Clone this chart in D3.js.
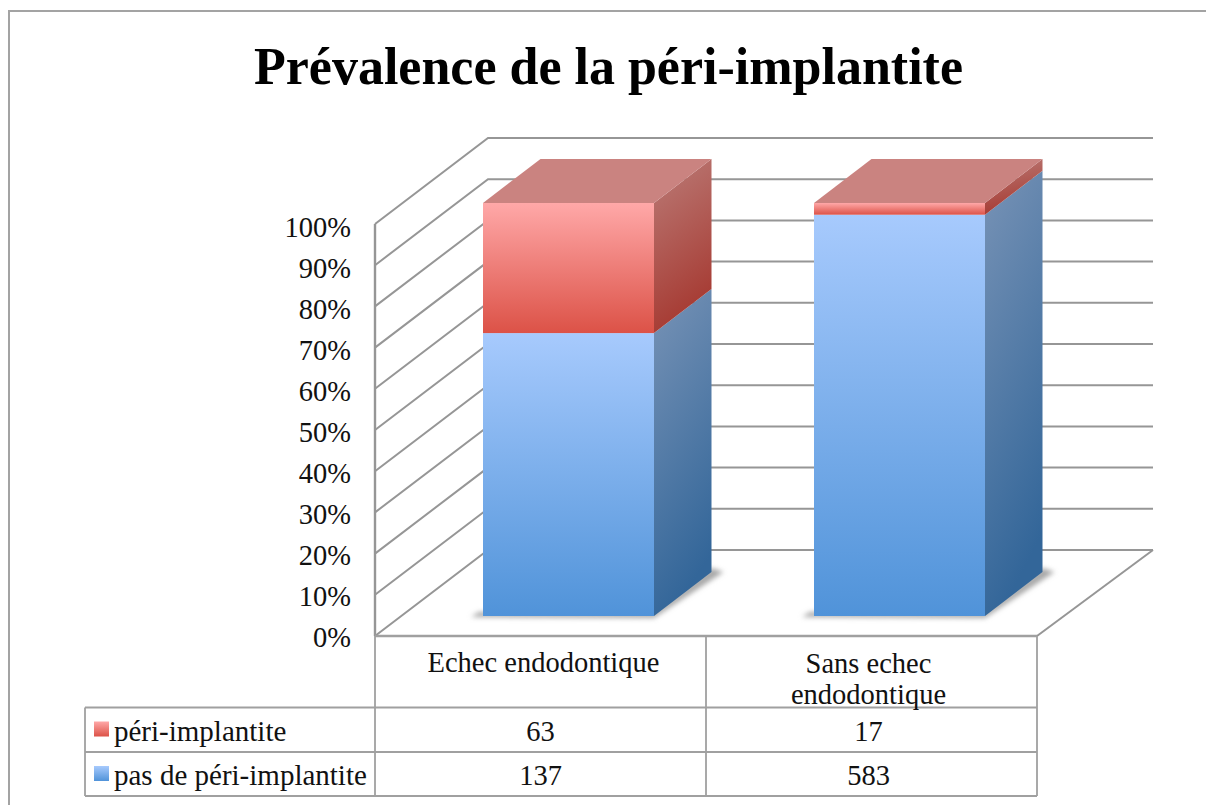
<!DOCTYPE html>
<html lang="fr">
<head>
  <meta charset="UTF-8">
  <title>Prévalence de la péri-implantite</title>
  <script src="https://d3js.org/d3.v7.min.js"></script>
  <style>
    html, body { margin: 0; padding: 0; background: #fff; overflow: hidden; }
    svg { display: block; font-family: "Liberation Serif", serif; }
  </style>
</head>
<body>
<svg id="chart" width="1206" height="805"></svg>

<script>
const title = "Prévalence de la péri-implantite";
const categories = ["Echec endodontique", "Sans echec endodontique"];
const categoryLines = [["Echec endodontique"], ["Sans echec", "endodontique"]];
const periValues = [63, 17];
const sansValues = [137, 583];
const seriesNames = ["péri-implantite", "pas de péri-implantite"];
const ticks = [0, 0.1, 0.2, 0.3, 0.4, 0.5, 0.6, 0.7, 0.8, 0.9, 1];

const svg = d3.select("#chart");
const left = 375, right = 1037, axisBottom = 636, axisTop = 224;
const wallDx = 113, wallDy = -86;   // depth of the back wall
const barDx = 57.5, barDy = -44;    // depth of one bar
const barW = 171;
const gridColor = "#969696";

const x = d3.scaleBand().domain(categories).range([left, right]);
const y = d3.scaleLinear().domain([0, 1]).range([axisBottom, axisTop]);
// tick labels drift a bit from the gridlines in the original
const yLabel = d3.scaleLinear().domain([0, 1]).range([647, 237]);
// bars sit 20px up the floor, 28px in
const yBar = d3.scaleLinear().domain([0, 1]).range([616, 203]);
const barX = c => x(c) + (x.bandwidth() - barW) / 2 + 28;

const defs = svg.append("defs");
function grad(id, x2, y2, c1, c2) {
  const g = defs.append("linearGradient").attr("id", id)
    .attr("x1", 0).attr("y1", 0).attr("x2", x2).attr("y2", y2);
  g.append("stop").attr("offset", 0).attr("stop-color", c1);
  g.append("stop").attr("offset", 1).attr("stop-color", c2);
}
grad("blueFront", 0, 1, "#a7cafd", "#5093d9");
grad("redFront", 0, 1, "#ffa8a8", "#dc5247");
grad("blueSide", 0.25, 1, "#7893b6", "#336699");
grad("redSide", 0.25, 1, "#bb7c78", "#a63a32");
defs.append("filter").attr("id", "blur").attr("x", "-20%").attr("y", "-20%")
  .attr("width", "140%").attr("height", "140%")
  .append("feGaussianBlur").attr("stdDeviation", 2.5);

// outer frame, open on the right and bottom
svg.append("path")
  .attr("d", d3.line()([[9, 805], [9, 11], [1206, 11]]))
  .attr("fill", "none").attr("stroke", "#a3a3a3").attr("stroke-width", 2);

svg.append("text").attr("x", 608.5).attr("y", 84)
  .attr("text-anchor", "middle").attr("font-size", 52).attr("font-weight", "bold")
  .attr("fill", "#000").text(title);

// gridlines: front edge, along the side wall, then along the back wall
const grid = svg.append("g").attr("fill", "none").attr("stroke", gridColor).attr("stroke-width", 2);
grid.selectAll("path").data(ticks).join("path")
  .attr("d", t => d3.line()([[left, y(t)], [left + wallDx, y(t) + wallDy], [right + wallDx + 3, y(t) + wallDy]]));
// floor front right corner
grid.append("path").attr("d", d3.line()([[right, axisBottom], [right + wallDx + 3, axisBottom + wallDy]]));
grid.append("path").attr("d", d3.line()([[left, axisTop], [left, axisBottom]])).attr("stroke-width", 2.4);

svg.append("g").selectAll("text").data(ticks).join("text")
  .attr("x", 351).attr("y", t => yLabel(t))
  .attr("text-anchor", "end").attr("font-size", 28.5).attr("fill", "#111")
  .text(d3.format(".0%"));

// stacked 3d bars
const stacks = categories.map((c, i) => {
  const total = sansValues[i] + periValues[i];
  return { c, blue: sansValues[i] / total };
});
const bars = svg.append("g");
stacks.forEach(d => {
  const x0 = barX(d.c), x1 = x0 + barW;
  const g = bars.append("g");
  // floor shadow
  g.append("path").attr("filter", "url(#blur)").attr("fill", "#a8a8a8")
    .attr("d", d3.line()([[x0 - 12, yBar(0) + 1], [x1, yBar(0) + 2], [x1 + barDx + 12, yBar(0) + barDy], [x1 + barDx, yBar(0) + barDy - 4], [x1, yBar(0) - 4], [x0 - 4, yBar(0) - 4]]));
  const segs = [
    { from: 0, to: d.blue, front: "blueFront", side: "blueSide" },
    { from: d.blue, to: 1, front: "redFront", side: "redSide" }
  ];
  segs.forEach(s => {
    g.append("rect").attr("x", x0).attr("y", yBar(s.to)).attr("width", barW)
      .attr("height", yBar(s.from) - yBar(s.to)).attr("fill", `url(#${s.front})`);
    g.append("path").attr("fill", `url(#${s.side})`)
      .attr("d", d3.line()([[x1, yBar(s.from)], [x1 + barDx, yBar(s.from) + barDy], [x1 + barDx, yBar(s.to) + barDy], [x1, yBar(s.to)]]) + "Z");
  });
  g.append("path").attr("fill", "#ca8380")
    .attr("d", d3.line()([[x0, yBar(1)], [x0 + barDx, yBar(1) + barDy], [x1 + barDx, yBar(1) + barDy], [x1, yBar(1)]]) + "Z");
});

// data table under the chart
const rowY = [636, 707.5, 752, 796];
const tableLeft = 85;
const table = svg.append("g").attr("stroke", "#a0a0a0").attr("stroke-width", 1.8).attr("fill", "none");
table.append("path").attr("stroke-width", 2.6).attr("d", d3.line()([[left, rowY[0]], [right, rowY[0]]]));
table.append("path").attr("d", d3.line()([[left, rowY[0]], [left, rowY[3]]]));
table.append("path").attr("d", d3.line()([[left + x.bandwidth(), rowY[0]], [left + x.bandwidth(), rowY[3]]]));
table.append("path").attr("d", d3.line()([[right, rowY[0]], [right, rowY[3]]]));
table.append("path").attr("d", d3.line()([[tableLeft, rowY[1]], [tableLeft, rowY[3]]]));
rowY.slice(1).forEach(r => table.append("path").attr("d", d3.line()([[tableLeft, r], [right, r]])));

const cellMid = c => x(c) + x.bandwidth() / 2;
const fs = 28.5;
categoryLines.forEach((lines, i) => {
  const t = svg.append("text").attr("text-anchor", "middle").attr("font-size", fs).attr("fill", "#111");
  lines.forEach((l, j) => t.append("tspan").attr("x", cellMid(categories[i]) + (i ? -3 : 3)).attr("y", 672 + i + j * 31).text(l));
});
[periValues, sansValues].forEach((vals, r) => {
  const base = rowY[r + 1] + 33;
  vals.forEach((v, i) => {
    svg.append("text").attr("x", cellMid(categories[i]) + (i ? -3 : 0)).attr("y", base)
      .attr("text-anchor", "middle").attr("font-size", fs).attr("fill", "#111").text(v);
  });
  svg.append("rect").attr("x", 94).attr("y", rowY[r + 1] + 14).attr("width", 15).attr("height", 15)
    .attr("fill", r === 0 ? "url(#redFront)" : "url(#blueFront)");
  svg.append("text").attr("x", 114).attr("y", base)
    .attr("font-size", 29).attr("fill", "#111").text(seriesNames[r]);
});
</script>
</body>
</html>
